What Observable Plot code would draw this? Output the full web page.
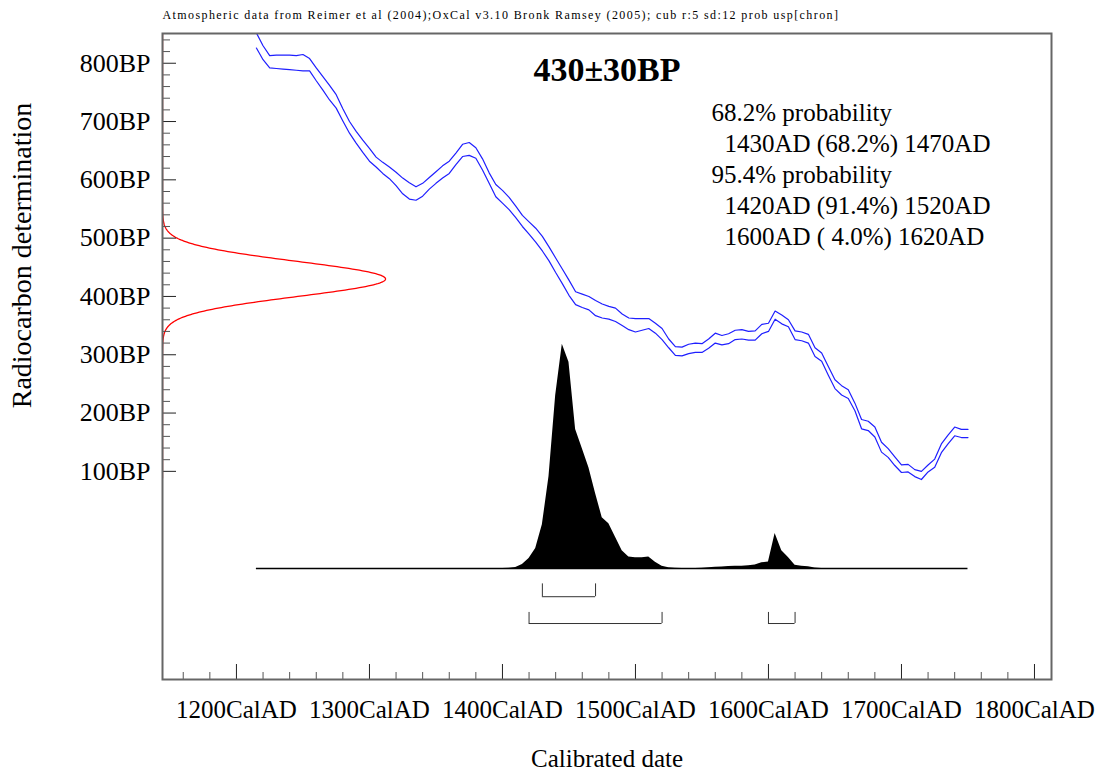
<!DOCTYPE html>
<html><head><meta charset="utf-8">
<script src="https://cdn.jsdelivr.net/npm/d3@7"></script>
<script src="https://cdn.jsdelivr.net/npm/@observablehq/plot@0.6"></script>
<style>body{margin:0;background:#fff;} svg{display:block}</style>
</head><body><div id="chart"></div>
<script>
// ---- data ----
const headerText = "Atmospheric data from Reimer et al (2004);OxCal v3.10 Bronk Ramsey (2005); cub r:5 sd:12 prob usp[chron]";
const dateLabel = "430±30BP";
const radiocarbonMean = 430;
const radiocarbonSd = 30;
const probLines = ["68.2% probability", "1430AD (68.2%) 1470AD", "95.4% probability", "1420AD (91.4%) 1520AD", "1600AD ( 4.0%) 1620AD"];
const probIndent = [false, true, false, true, true];

const calYears = [1215,1220,1225,1230,1235,1240,1245,1250,1255,1260,1265,1270,1275,1280,1285,1290,1295,1300,1305,1310,1315,1320,1325,1330,1335,1340,1345,1350,1355,1360,1365,1370,1375,1380,1385,1390,1395,1400,1405,1410,1415,1420,1425,1430,1435,1440,1445,1450,1455,1460,1465,1470,1475,1480,1485,1490,1495,1500,1505,1510,1515,1520,1525,1530,1535,1540,1545,1550,1555,1560,1565,1570,1575,1580,1585,1590,1595,1600,1605,1610,1615,1620,1625,1630,1635,1640,1645,1650,1655,1660,1665,1670,1675,1680,1685,1690,1695,1700,1705,1710,1715,1720,1725,1730,1735,1740,1745,1750];
const calUpper = [852,830,813,814,814,814,813,815,808,792,777,762,746,722,700,683,668,654,639,630,622,613,603,595,588,594,604,614,624,632,646,661,664,655,636,612,592,582,570,555,539,528,517,503,485,466,447,428,408,404,400,393,387,383,380,370,363,362,362,362,354,345,327,314,313,318,320,319,327,337,333,336,342,343,340,341,352,354,375,368,360,341,339,335,312,303,280,257,247,240,217,189,186,176,150,139,125,111,112,103,100,111,121,147,162,176,172,172];
const calLower = [826,806,792,791,790,789,788,787,787,770,754,737,723,701,680,663,647,632,622,611,602,590,576,567,565,572,584,594,603,611,626,640,642,637,617,594,571,560,549,535,520,507,493,478,461,441,422,402,386,381,377,367,363,361,357,350,343,339,342,345,337,326,312,299,298,302,304,304,311,320,317,319,326,327,325,325,336,340,361,353,348,326,324,320,297,289,265,242,231,225,204,173,170,159,133,124,110,98,99,91,86,99,107,132,147,161,158,158];

const probYears = [1215,1390,1395,1400,1405,1410,1415,1420,1425,1430,1435,1440,1445,1450,1455,1460,1465,1470,1475,1480,1485,1490,1495,1500,1505,1510,1515,1520,1525,1530,1535,1540,1545,1550,1555,1560,1565,1570,1575,1580,1585,1590,1595,1600,1605,1610,1615,1620,1625,1630,1635,1640,1645,1750];
const probValues = [0,0,0,0.1,0.2,0.5,1.8,4.5,9,19.5,41,77,100,92,62,53.5,45,33.5,22.7,20,14,8,5.2,4.8,4.8,5.2,2.8,1,0.4,0.2,0.1,0.1,0.1,0.2,0.4,0.6,0.7,0.9,1,1.1,1.3,1.6,2.6,3,15.6,8,5,1.5,1,0.8,0.3,0.1,0,0];

const ranges68 = [[1430, 1470]];
const ranges95 = [[1420, 1520], [1600, 1620]];

const xMajorTicks = [1200, 1300, 1400, 1500, 1600, 1700, 1800];
const xMinorTicks = [1160,1180,1220,1240,1260,1280,1320,1340,1360,1380,1420,1440,1460,1480,1520,1540,1560,1580,1620,1640,1660,1680,1720,1740,1760,1780];
const yMajorTicks = [100, 200, 300, 400, 500, 600, 700, 800];
const yMinorTicks = [120,140,160,180,220,240,260,280,320,340,360,380,420,440,460,480,520,540,560,580,620,640,660,680,720,740,760,780,820,840];

// ---- layout constants (scale domains, placements) ----
const xDomain = [1144.4, 1812.8];
const yDomain = [-257, 851];
const baseBP = -66.8;      // baseline of the calibrated distribution
const probSpan = 384.8;    // height (BP units) of the distribution peak
const redAmp = 167.7;      // width (years) of the radiocarbon gaussian peak
const bracket68 = {top: -93, bottom: -115};
const bracket95 = {top: -142, bottom: -161};

const cal = calYears.map((year, i) => ({year, upper: calUpper[i], lower: calLower[i]}));
const prob = probYears.map((year, i) => ({year, p: probValues[i]}));
const gauss = d3.range(88, 852, 1).map(bp => ({bp, g: Math.exp(-0.5 * ((bp - radiocarbonMean) / radiocarbonSd) ** 2)}));

const font = "Liberation Serif, Times New Roman, serif";

const probTextMarks = probLines.map((t, i) =>
  Plot.text([t], {frameAnchor: "top-left", dx: probIndent[i] ? 562 : 549, dy: 79 + i * 31, textAnchor: "start", fontSize: 25, lineAnchor: "middle"})
);

const chart = Plot.plot({
  width: 1104,
  height: 770,
  marginLeft: 162,
  marginRight: 53,
  marginTop: 33,
  marginBottom: 91,
  style: {fontFamily: font, background: "white", color: "black"},
  x: {domain: xDomain},
  y: {domain: yDomain},
  marks: [
    Plot.areaY(prob, {x: "year", y1: baseBP, y2: d => baseBP + d.p / 100 * probSpan, fill: "black"}),
    Plot.ruleY([baseBP], {x1: calYears[0], x2: calYears[calYears.length - 1], stroke: "black", strokeWidth: 1.5}),
    Plot.line(cal, {x: "year", y: "upper", stroke: "#1f1fff", strokeWidth: 1.2, clip: true}),
    Plot.line(cal, {x: "year", y: "lower", stroke: "#1f1fff", strokeWidth: 1.2, clip: true}),
    Plot.line(gauss, {x: d => xDomain[0] + d.g * redAmp, y: "bp", stroke: "red", strokeWidth: 1.3, clip: true}),
    // brackets
    Plot.ruleY(ranges68, {y: bracket68.bottom, x1: d => d[0], x2: d => d[1], stroke: "#333", strokeWidth: 1}),
    Plot.ruleX(ranges68.flat(), {x: d => d, y1: bracket68.bottom, y2: bracket68.top, stroke: "#333", strokeWidth: 1}),
    Plot.ruleY(ranges95, {y: bracket95.bottom, x1: d => d[0], x2: d => d[1], stroke: "#333", strokeWidth: 1}),
    Plot.ruleX(ranges95.flat(), {x: d => d, y1: bracket95.bottom, y2: bracket95.top, stroke: "#333", strokeWidth: 1}),
    // axes
    Plot.axisX({ticks: xMinorTicks, tickSize: -7, text: null, stroke: "#555", label: null}),
    Plot.axisX({ticks: xMajorTicks, tickSize: -15, tickPadding: 36, tickFormat: d => d + "CalAD", fontSize: 25, label: null, stroke: "#222"}),
    Plot.axisY({ticks: yMinorTicks, tickSize: -8, text: null, stroke: "#555", label: null}),
    Plot.axisY({ticks: yMajorTicks, tickSize: -14, tickPadding: 26, tickFormat: d => d + "BP", fontSize: 26, label: null, stroke: "#222"}),
    Plot.frame({stroke: "#666", strokeWidth: 2}),
    // texts
    Plot.text([headerText], {frameAnchor: "top-left", dy: -18, textAnchor: "start", fontSize: 12, lineAnchor: "middle"}),
    Plot.text([dateLabel], {frameAnchor: "top", dy: 37, fontSize: 34, fontWeight: "bold", lineAnchor: "middle"}),
    ...probTextMarks,
    Plot.text(["Radiocarbon determination"], {frameAnchor: "left", dx: -140, dy: -101, rotate: -90, textAnchor: "middle", fontSize: 28, lineAnchor: "middle"}),
    Plot.text(["Calibrated date"], {frameAnchor: "bottom", dy: 79, textAnchor: "middle", fontSize: 25, lineAnchor: "middle"})
  ]
});
// spread the small header text as in the reference
d3.select(chart).selectAll("text").filter(function() { return this.textContent === headerText; })
  .style("letter-spacing", "1.4px");
document.getElementById("chart").appendChild(chart);
</script>
</body></html>
